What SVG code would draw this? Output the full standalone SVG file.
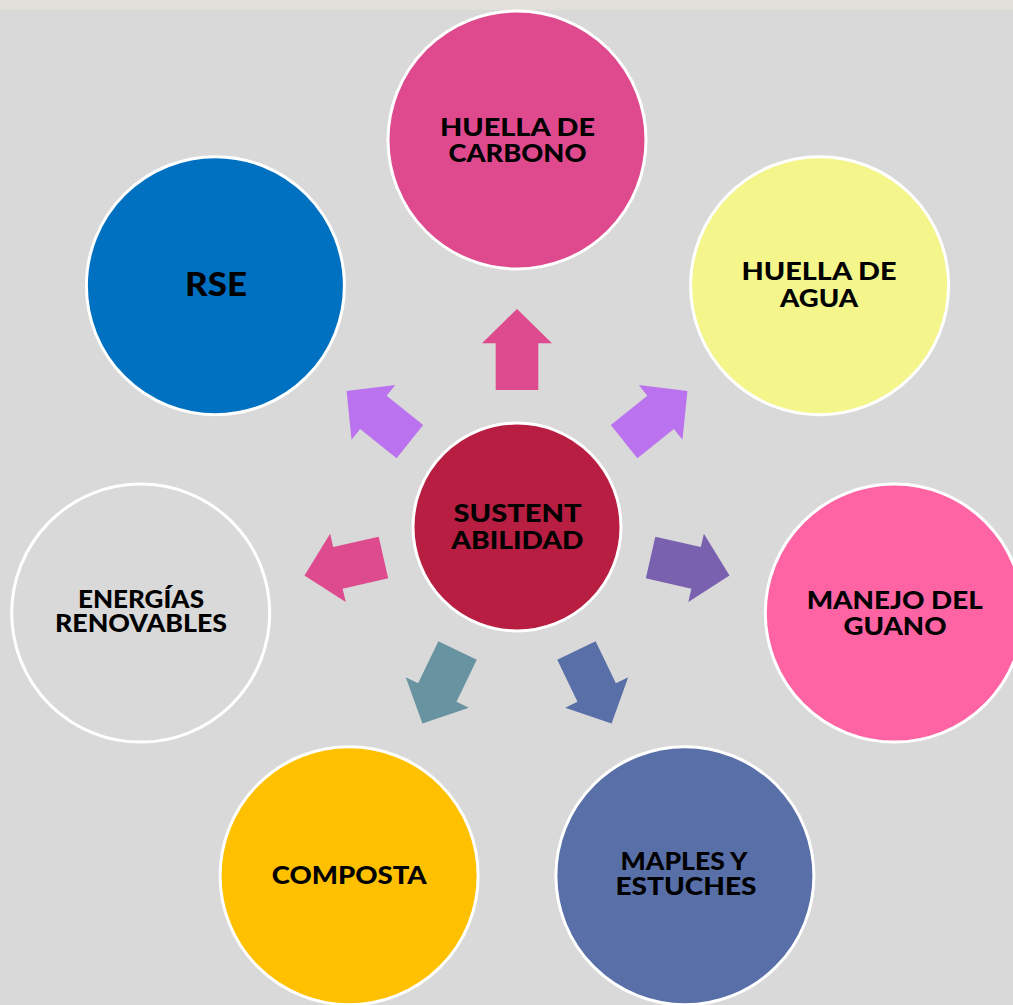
<svg xmlns="http://www.w3.org/2000/svg" width="1013" height="1005" viewBox="0 0 1013 1005">
<style>
.node circle{stroke:#ffffff;stroke-width:3}
.lbl{font-family:Lato,"Open Sans","Liberation Sans",sans-serif;font-weight:900;font-size:25px;fill:#000;text-anchor:middle}
.big{font-size:32px}
</style>
<defs>
<polygon id="arr" points="-21.3,-137 21.3,-137 21.3,-183.7 35,-183.7 0,-218 -35,-183.7 -21.3,-183.7"/>
</defs>
<rect x="0" y="0" width="1013" height="1005" fill="#d9d9d9"/>
<rect x="0" y="0" width="1013" height="10" fill="#e3e0dc"/>
<g id="connectors">
<use href="#arr" transform="translate(517 527) rotate(0)" fill="#de4a8e"/>
<use href="#arr" transform="translate(517 527) rotate(51.43)" fill="#bb72ee"/>
<use href="#arr" transform="translate(517 527) rotate(102.86)" fill="#7a61b0"/>
<use href="#arr" transform="translate(517 527) rotate(154.29)" fill="#586fa8"/>
<use href="#arr" transform="translate(517 527) rotate(205.71)" fill="#6893a0"/>
<use href="#arr" transform="translate(517 527) rotate(257.14)" fill="#de4a8e"/>
<use href="#arr" transform="translate(517 527) rotate(308.57)" fill="#bb72ee"/>
</g>
<g id="center" class="node">
<circle cx="517" cy="527" r="104" fill="#b81e42"/>
<text class="lbl" x="517.5" y="522" textLength="128" lengthAdjust="spacingAndGlyphs">SUSTENT</text>
<text class="lbl" x="517.3" y="548.5" textLength="132" lengthAdjust="spacingAndGlyphs">ABILIDAD</text>
</g>
<g id="carbono" class="node">
<circle cx="517" cy="140" r="129" fill="#df4a8f"/>
<text class="lbl" x="517.5" y="136" textLength="155" lengthAdjust="spacingAndGlyphs">HUELLA DE</text>
<text class="lbl" x="517.5" y="162" textLength="138" lengthAdjust="spacingAndGlyphs">CARBONO</text>
</g>
<g id="agua" class="node">
<circle cx="819.6" cy="285.7" r="129" fill="#f4f68c"/>
<text class="lbl" x="819" y="280" textLength="155" lengthAdjust="spacingAndGlyphs">HUELLA DE</text>
<text class="lbl" x="819" y="306.5" textLength="78" lengthAdjust="spacingAndGlyphs">AGUA</text>
</g>
<g id="guano" class="node">
<circle cx="894.3" cy="613.1" r="129" fill="#fe64a4"/>
<text class="lbl" x="894.7" y="608.5" textLength="176" lengthAdjust="spacingAndGlyphs">MANEJO DEL</text>
<text class="lbl" x="895" y="634.5" textLength="103" lengthAdjust="spacingAndGlyphs">GUANO</text>
</g>
<g id="maples" class="node">
<circle cx="684.9" cy="875.7" r="129" fill="#586fa8"/>
<text class="lbl" x="684" y="869.5" textLength="127" lengthAdjust="spacingAndGlyphs">MAPLES Y</text>
<text class="lbl" x="686" y="895" textLength="141" lengthAdjust="spacingAndGlyphs">ESTUCHES</text>
</g>
<g id="composta" class="node">
<circle cx="349.1" cy="875.7" r="129" fill="#ffc000"/>
<text class="lbl" x="349.2" y="883.5" textLength="155" lengthAdjust="spacingAndGlyphs">COMPOSTA</text>
</g>
<g id="energias" class="node">
<circle cx="140.7" cy="613.1" r="129" fill="#d9d9d9"/>
<text class="lbl" x="141" y="608" textLength="126" lengthAdjust="spacingAndGlyphs">ENERGÍAS</text>
<text class="lbl" x="141" y="632" textLength="172" lengthAdjust="spacingAndGlyphs">RENOVABLES</text>
</g>
<g id="rse" class="node">
<circle cx="215.4" cy="285.7" r="129" fill="#0070c0"/>
<text class="lbl big" x="216" y="296" textLength="62" lengthAdjust="spacingAndGlyphs">RSE</text>
</g>
</svg>
